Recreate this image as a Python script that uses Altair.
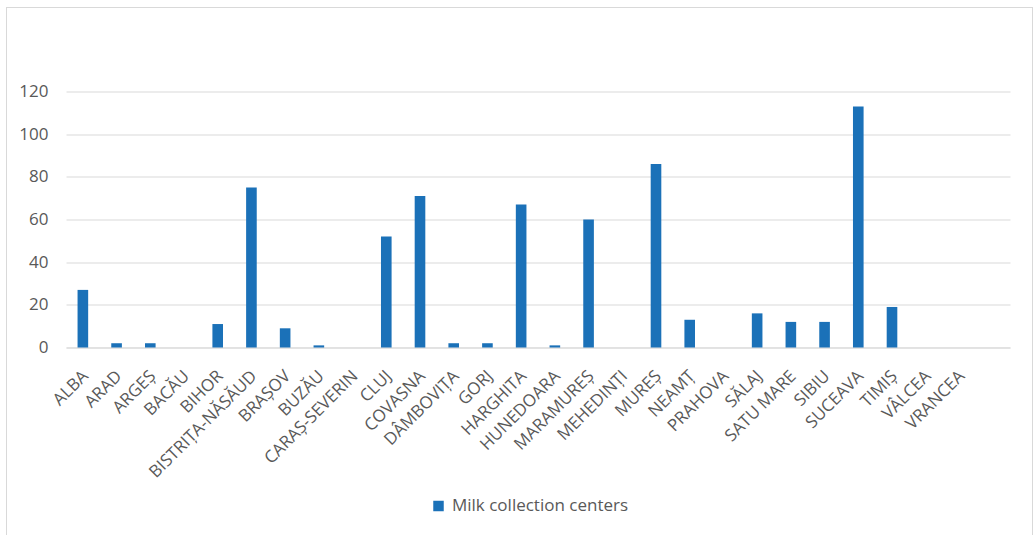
import altair as alt
import pandas as pd

counties = [
    "ALBA", "ARAD", "ARGEȘ", "BACĂU", "BIHOR", "BISTRIȚA-NĂSĂUD", "BRAȘOV",
    "BUZĂU", "CARAȘ-SEVERIN", "CLUJ", "COVASNA", "DÂMBOVIȚA", "GORJ",
    "HARGHITA", "HUNEDOARA", "MARAMUREȘ", "MEHEDINȚI", "MUREȘ", "NEAMȚ",
    "PRAHOVA", "SĂLAJ", "SATU MARE", "SIBIU", "SUCEAVA", "TIMIȘ", "VÂLCEA",
    "VRANCEA",
]
centers = [27, 2, 2, 0, 11, 75, 9, 1, 0, 52, 71, 2, 2, 67, 1, 60, 0, 86, 13,
           0, 16, 12, 12, 113, 19, 0, 0]
series_name = "Milk collection centers"
y_ticks = [0, 20, 40, 60, 80, 100, 120]

df = pd.DataFrame({"county": counties, "centers": centers, "series": series_name})

# trailing empty slot on the category axis
x_domain = counties + [" "]

TEXT = "#595959"
GRID = "#d9d9d9"
BLUE = "#1b71b8"
FONT = "Open Sans"

bars = alt.Chart(df).mark_bar(color=BLUE).encode(
    x=alt.X(
        "county:N",
        sort=x_domain,
        scale=alt.Scale(domain=x_domain, paddingInner=0.685, paddingOuter=0.3425),
        axis=alt.Axis(
            title=None, labelAngle=-45, labelAlign="right", labelBaseline="top",
            labelPadding=20, labelOffset=-3, ticks=False, domainColor=GRID,
            domainWidth=1, labelColor=TEXT, labelFont=FONT, labelFontSize=17,
            grid=False, labelOverlap=False,
        ),
    ),
    y=alt.Y(
        "centers:Q",
        scale=alt.Scale(domain=[0, 120], nice=False),
        axis=alt.Axis(
            title=None, values=y_ticks, domain=False, ticks=False,
            gridColor=GRID, gridWidth=1, labelColor=TEXT, labelFont=FONT,
            labelFontSize=17, labelPadding=18,
        ),
    ),
    color=alt.Color(
        "series:N",
        scale=alt.Scale(domain=[series_name], range=[BLUE]),
        legend=alt.Legend(
            title=None, orient="none", legendX=364, legendY=406,
            symbolType="square", symbolSize=110, symbolStrokeWidth=0,
            labelColor=TEXT, labelFont=FONT, labelFontSize=17, padding=0,
            symbolOffset=0, labelOffset=5, labelLimit=400,
        ),
    ),
)

# outer frame of the chart
frame = alt.Chart(df).mark_rect(
    fill=None, stroke=GRID, strokeWidth=1
).encode(
    x=alt.value(-59.5), x2=alt.value(966.5),
    y=alt.value(-84), y2=alt.value(470),
)

chart = alt.layer(frame, bars).properties(
    width=944, height=256,
    autosize=alt.AutoSizeParams(type="none"),
    padding={"left": 66, "top": 91.5, "right": 24, "bottom": 187.5},
    background="white",
).configure_view(stroke=None)

chart.save("out.html", embed_options={"renderer": "svg", "actions": False})
